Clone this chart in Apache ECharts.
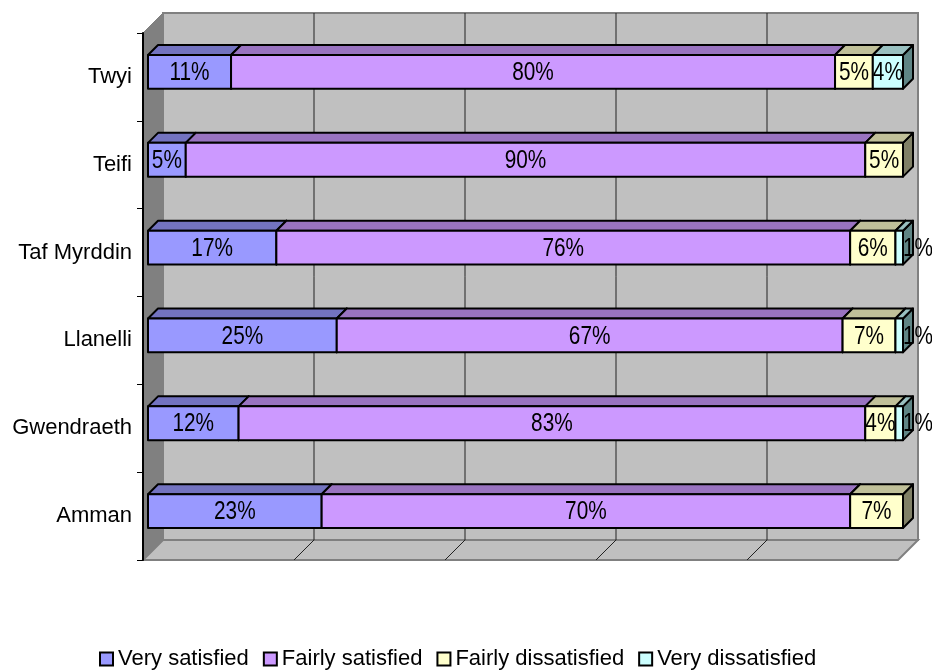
<!DOCTYPE html>
<html>
<head>
<meta charset="utf-8">
<script src="https://cdn.jsdelivr.net/npm/echarts@6/dist/echarts.min.js"></script>
<style>
  html, body { margin: 0; padding: 0; background: #fff; }
  #chart { width: 932px; height: 671px; }
</style>
</head>
<body>
<div id="chart"></div>
<script>
const categories = ['Twyi', 'Teifi', 'Taf Myrddin', 'Llanelli', 'Gwendraeth', 'Amman']
const seriesNames = ['Very satisfied', 'Fairly satisfied', 'Fairly dissatisfied', 'Very dissatisfied']
const verySatisfied = [11, 5, 17, 25, 12, 23]
const fairlySatisfied = [80, 90, 76, 67, 83, 70]
const fairlyDissatisfied = [5, 5, 6, 7, 4, 7]
const veryDissatisfied = [4, 0, 1, 1, 1, 0]
const gridTicks = [20, 40, 60, 80]

const font = "'Liberation Sans', Arial, sans-serif"
// front / top / side colours, Excel 2003 style
const colors = [
  ['#9999FF', '#7373C0', '#4D4D80'],
  ['#CC99FF', '#9973C0', '#664D80'],
  ['#FFFFCC', '#C0C099', '#808066'],
  ['#CCFFFF', '#99C0C0', '#5F8585']
]
const WALL = 20     // depth of the walls
const BAR_Z = 5     // bar front offset from front plane
const BAR_D = 10    // bar depth

const allValues = [verySatisfied, fairlySatisfied, fairlyDissatisfied, veryDissatisfied]

function stackData(s) {
  return categories.map((c, i) => {
    let start = 0
    for (let k = 0; k < s; k++) start += allValues[k][i]
    return [start, start + allValues[s][i], i, allValues[s][i]]
  })
}

function renderWalls(params, api) {
  const cs = params.coordSys
  const gx = cs.x, gy = cs.y, gw = cs.width, gh = cs.height
  const D = WALL
  const children = [
    {
      type: 'polygon',
      shape: { points: [[gx, gy], [gx + D, gy - D], [gx + D, gy + gh - D], [gx, gy + gh]] },
      style: { fill: '#808080', stroke: '#808080', lineWidth: 1 }
    },
    {
      type: 'rect',
      shape: { x: gx + D, y: gy - D, width: gw, height: gh },
      style: { fill: '#C0C0C0', stroke: '#808080', lineWidth: 2 }
    },
    {
      type: 'polygon',
      shape: { points: [[gx, gy + gh], [gx + D, gy + gh - D], [gx + gw + D, gy + gh - D], [gx + gw, gy + gh]] },
      style: { fill: '#C0C0C0', stroke: '#808080', lineWidth: 2 }
    }
  ]
  gridTicks.forEach(v => {
    const px = api.coord([v, 0])[0]
    children.push({
      type: 'line',
      shape: { x1: px + D, y1: gy - D, x2: px + D, y2: gy + gh - D },
      style: { stroke: '#222', lineWidth: 1 }
    })
    children.push({
      type: 'line',
      shape: { x1: px, y1: gy + gh, x2: px + D, y2: gy + gh - D },
      style: { stroke: '#222', lineWidth: 1 }
    })
  })
  return { type: 'group', children: children }
}

function makeRender(s) {
  return function (params, api) {
    const val = api.value(3)
    if (!val) return null
    const cat = api.value(2)
    const a = api.coord([api.value(0), cat])
    const b = api.coord([api.value(1), cat])
    const band = api.size([0, 1])[1]
    const h = band * 0.385
    const xa = a[0] + BAR_Z, xb = b[0] + BAR_Z
    const yt = a[1] - BAR_Z - h / 2, yb = yt + h
    const d = BAR_D
    const c = colors[s]
    const line = { stroke: '#000', lineWidth: 2, lineJoin: 'round' }
    const small = val <= 1
    const tx = small ? xb : (xa + xb) / 2
    const ty = (yt + yb) / 2 + 1
    return {
      type: 'group',
      children: [
        {
          type: 'polygon',
          shape: { points: [[xb, yt], [xb + d, yt - d], [xb + d, yb - d], [xb, yb]] },
          style: Object.assign({ fill: c[2] }, line)
        },
        {
          type: 'polygon',
          shape: { points: [[xa, yt], [xa + d, yt - d], [xb + d, yt - d], [xb, yt]] },
          style: Object.assign({ fill: c[1] }, line)
        },
        {
          type: 'rect',
          shape: { x: xa, y: yt, width: xb - xa, height: h },
          style: Object.assign({ fill: c[0] }, line)
        },
        {
          // narrow, tall label like Arial Narrow
          type: 'text',
          z2: 10,
          x: tx,
          y: ty,
          scaleX: 0.8,
          style: {
            x: 0,
            y: 0,
            text: val + '%',
            fill: '#000',
            font: '26px ' + font,
            align: small ? 'left' : 'center',
            verticalAlign: 'middle'
          }
        }
      ]
    }
  }
}

const chart = echarts.init(document.getElementById('chart'))

const series = [
  {
    name: 'walls',
    type: 'custom',
    z: 0,
    silent: true,
    data: [[0, 0]],
    encode: { x: 0, y: 1 },
    renderItem: renderWalls
  }
]
seriesNames.forEach((name, s) => {
  series.push({
    name: name,
    type: 'custom',
    z: 2 + s,
    itemStyle: { color: colors[s][0], borderColor: '#000', borderWidth: 2 },
    data: stackData(s),
    encode: { x: [0, 1], y: 2 },
    renderItem: makeRender(s)
  })
})

chart.setOption({
  animation: false,
  backgroundColor: '#fff',
  grid: { left: 143, right: 34, top: 33, bottom: 111, outerBoundsMode: 'none' },
  xAxis: {
    type: 'value',
    min: 0,
    max: 100,
    interval: 20,
    show: false
  },
  yAxis: {
    type: 'category',
    data: categories,
    inverse: true,
    z: 20,
    axisLine: { show: true, lineStyle: { color: '#000', width: 2 } },
    axisTick: { show: true, length: 6, lineStyle: { color: '#000', width: 1 } },
    axisLabel: { color: '#000', fontSize: 22, fontFamily: font, margin: 11 },
    splitLine: { show: false }
  },
  legend: {
    data: seriesNames,
    left: 94,
    top: 643,
    icon: 'rect',
    itemWidth: 13,
    itemHeight: 13,
    itemGap: 14,
    itemStyle: { borderColor: '#000', borderWidth: 2 },
    textStyle: { color: '#000', fontSize: 22, fontFamily: font }
  },
  series: series
})
</script>
</body>
</html>
